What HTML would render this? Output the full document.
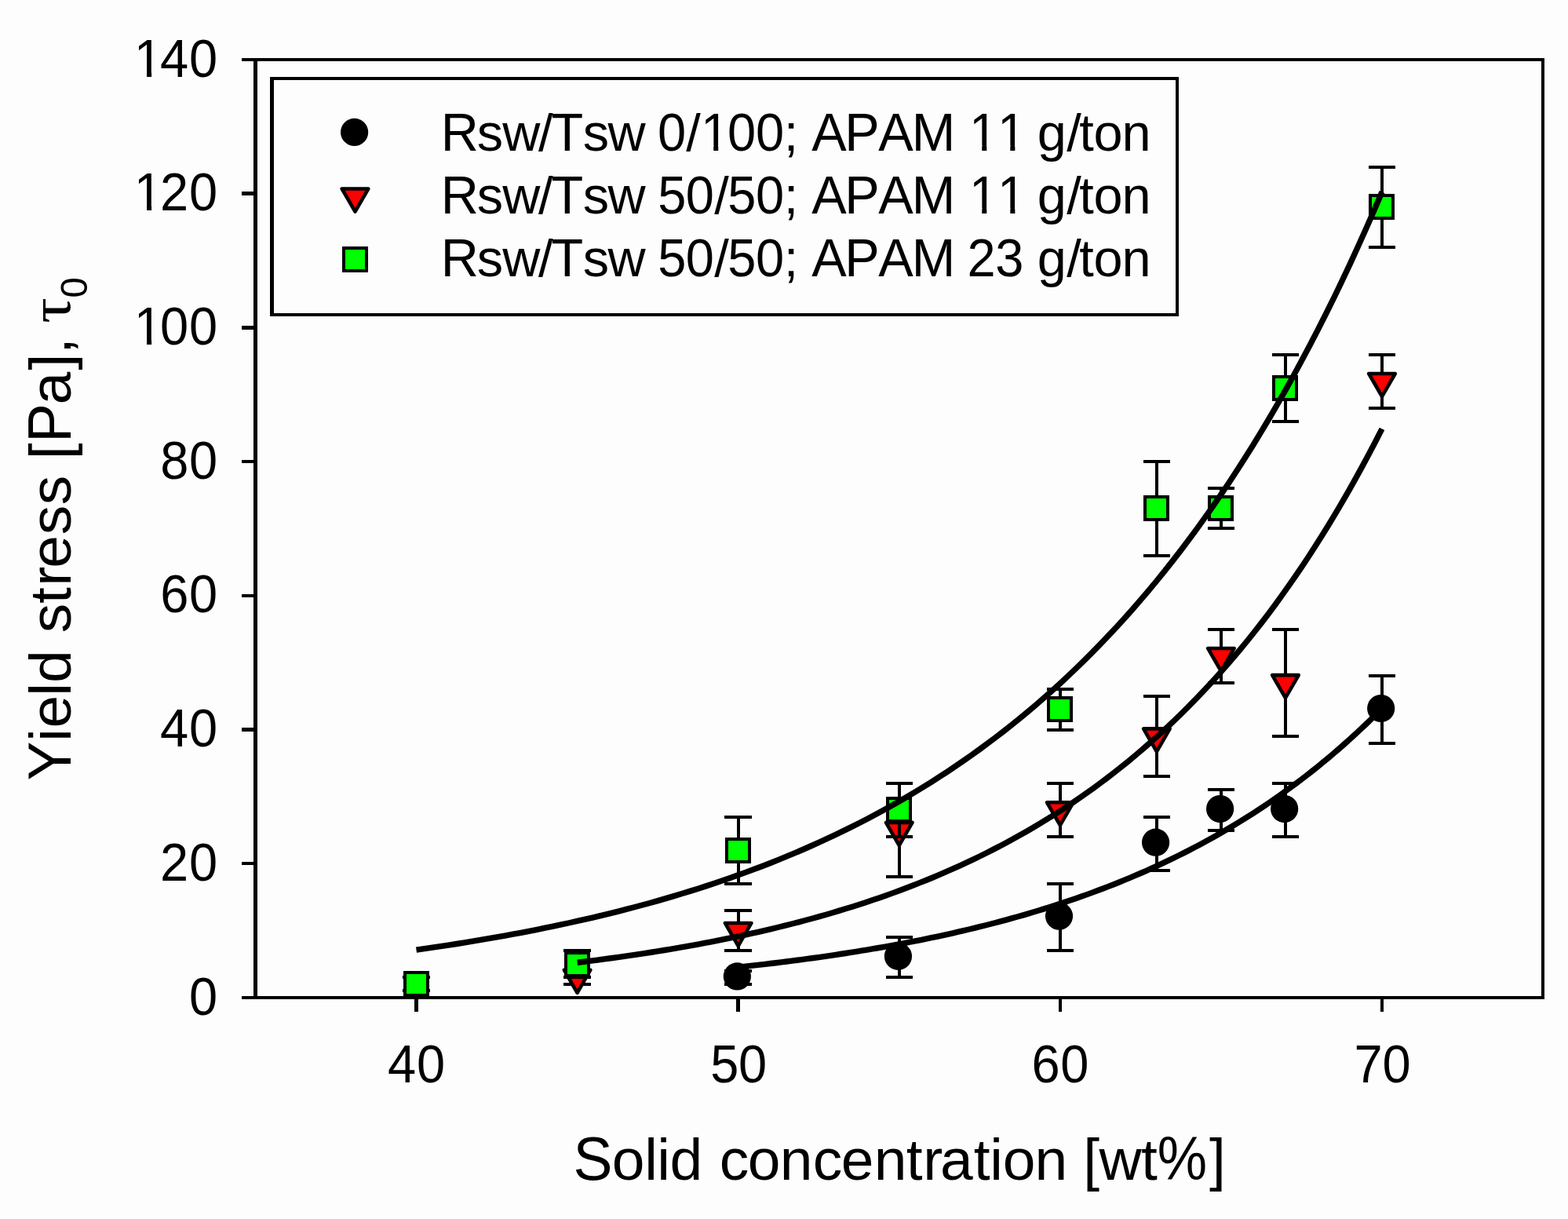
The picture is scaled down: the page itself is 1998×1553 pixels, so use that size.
<!DOCTYPE html>
<html lang="en">
<head>
<meta charset="utf-8">
<title>Yield stress vs solid concentration</title>
<style>
html,body{margin:0;padding:0;background:#fdfdfd;}
body{width:1998px;height:1553px;overflow:hidden;}
svg{display:block;}
text{white-space:pre;font-kerning:none;}
</style>
</head>
<body>
<svg xmlns="http://www.w3.org/2000/svg" width="1998" height="1553" viewBox="0 0 1998 1553" font-family='"Liberation Sans", sans-serif' fill="#000">
<rect x="0" y="0" width="1998" height="1553" fill="#fdfdfd"/>
<g id="frame" shape-rendering="crispEdges">
<rect x="308.00" y="74.00" width="1660.00" height="4.00" fill="#000"/>
<rect x="308.00" y="1269.00" width="1660.00" height="4.00" fill="#000"/>
<rect x="323.00" y="74.00" width="5.00" height="1199.00" fill="#000"/>
<rect x="1964.00" y="74.00" width="4.00" height="1199.00" fill="#000"/>
<rect x="308.00" y="1098.00" width="17.00" height="4.00" fill="#000"/>
<rect x="308.00" y="927.00" width="17.00" height="5.00" fill="#000"/>
<rect x="308.00" y="757.00" width="17.00" height="4.00" fill="#000"/>
<rect x="308.00" y="586.00" width="17.00" height="4.00" fill="#000"/>
<rect x="308.00" y="415.00" width="17.00" height="5.00" fill="#000"/>
<rect x="308.00" y="244.00" width="17.00" height="5.00" fill="#000"/>
<rect x="528.00" y="1271.00" width="5.00" height="18.00" fill="#000"/>
<rect x="938.00" y="1271.00" width="5.00" height="18.00" fill="#000"/>
<rect x="1349.00" y="1271.00" width="4.00" height="18.00" fill="#000"/>
<rect x="1759.00" y="1271.00" width="4.00" height="18.00" fill="#000"/>
</g>
<g id="yticklabels">
<g>
<text y="1292.60" font-size="66.67px"><tspan x="241.12" font-size="69.34px" textLength="36.15" lengthAdjust="spacingAndGlyphs">0</tspan></text>
</g>
<g>
<text y="1121.88" font-size="66.67px"><tspan x="203.97" font-size="69.34px" textLength="36.15" lengthAdjust="spacingAndGlyphs">2</tspan><tspan x="241.12" font-size="69.34px" textLength="36.15" lengthAdjust="spacingAndGlyphs">0</tspan></text>
</g>
<g>
<text y="951.16" font-size="66.67px"><tspan x="204.11" font-size="69.34px" textLength="36.15" lengthAdjust="spacingAndGlyphs">4</tspan><tspan x="241.12" font-size="69.34px" textLength="36.15" lengthAdjust="spacingAndGlyphs">0</tspan></text>
</g>
<g>
<text y="780.44" font-size="66.67px"><tspan x="204.18" font-size="69.34px" textLength="36.15" lengthAdjust="spacingAndGlyphs">6</tspan><tspan x="241.12" font-size="69.34px" textLength="36.15" lengthAdjust="spacingAndGlyphs">0</tspan></text>
</g>
<g>
<text y="609.72" font-size="66.67px"><tspan x="204.17" font-size="69.34px" textLength="36.15" lengthAdjust="spacingAndGlyphs">8</tspan><tspan x="241.12" font-size="69.34px" textLength="36.15" lengthAdjust="spacingAndGlyphs">0</tspan></text>
</g>
<g>
<text y="439.00" font-size="66.67px"><tspan x="170.86" font-size="69.34px" textLength="36.15" lengthAdjust="spacingAndGlyphs">1</tspan><tspan x="204.02" font-size="69.34px" textLength="36.15" lengthAdjust="spacingAndGlyphs">0</tspan><tspan x="241.12" font-size="69.34px" textLength="36.15" lengthAdjust="spacingAndGlyphs">0</tspan></text>
<rect x="174.81" y="432.22" width="12.24" height="7.58" fill="#fdfdfd"/>
<rect x="193.10" y="432.22" width="11.74" height="7.58" fill="#fdfdfd"/>
</g>
<g>
<text y="268.28" font-size="66.67px"><tspan x="170.86" font-size="69.34px" textLength="36.15" lengthAdjust="spacingAndGlyphs">1</tspan><tspan x="203.97" font-size="69.34px" textLength="36.15" lengthAdjust="spacingAndGlyphs">2</tspan><tspan x="241.12" font-size="69.34px" textLength="36.15" lengthAdjust="spacingAndGlyphs">0</tspan></text>
<rect x="174.81" y="261.50" width="12.24" height="7.58" fill="#fdfdfd"/>
<rect x="193.10" y="261.50" width="11.74" height="7.58" fill="#fdfdfd"/>
</g>
<g>
<text y="97.56" font-size="66.67px"><tspan x="170.86" font-size="69.34px" textLength="36.15" lengthAdjust="spacingAndGlyphs">1</tspan><tspan x="204.11" font-size="69.34px" textLength="36.15" lengthAdjust="spacingAndGlyphs">4</tspan><tspan x="241.12" font-size="69.34px" textLength="36.15" lengthAdjust="spacingAndGlyphs">0</tspan></text>
<rect x="174.81" y="90.78" width="12.24" height="7.58" fill="#fdfdfd"/>
<rect x="193.10" y="90.78" width="11.74" height="7.58" fill="#fdfdfd"/>
</g>
</g>
<g id="xticklabels">
<g>
<text y="1379.00" font-size="66.67px"><tspan x="494.11" font-size="69.34px" textLength="36.15" lengthAdjust="spacingAndGlyphs">4</tspan><tspan x="530.92" font-size="69.34px" textLength="36.15" lengthAdjust="spacingAndGlyphs">0</tspan></text>
</g>
<g>
<text y="1379.00" font-size="66.67px"><tspan x="905.13" font-size="69.34px" textLength="36.15" lengthAdjust="spacingAndGlyphs">5</tspan><tspan x="941.09" font-size="69.34px" textLength="36.15" lengthAdjust="spacingAndGlyphs">0</tspan></text>
</g>
<g>
<text y="1379.00" font-size="66.67px"><tspan x="1314.52" font-size="69.34px" textLength="36.15" lengthAdjust="spacingAndGlyphs">6</tspan><tspan x="1351.26" font-size="69.34px" textLength="36.15" lengthAdjust="spacingAndGlyphs">0</tspan></text>
</g>
<g>
<text y="1379.00" font-size="66.67px"><tspan x="1725.38" font-size="69.34px" textLength="36.15" lengthAdjust="spacingAndGlyphs">7</tspan><tspan x="1761.43" font-size="69.34px" textLength="36.15" lengthAdjust="spacingAndGlyphs">0</tspan></text>
</g>
</g>
<g>
<text id="xlabel" y="1502.80" font-size="75.00px"><tspan x="730.53" font-size="78.00px" textLength="50.02" lengthAdjust="spacingAndGlyphs">S</tspan><tspan x="779.64">o</tspan><tspan x="821.15">l</tspan><tspan x="837.24">i</tspan><tspan x="853.59">d</tspan> <tspan x="916.65">c</tspan><tspan x="952.69">o</tspan><tspan x="993.64">n</tspan><tspan x="1035.65">c</tspan><tspan x="1071.87">e</tspan><tspan x="1113.64">n</tspan><tspan x="1154.84">t</tspan><tspan x="1176.14">r</tspan><tspan x="1198.00">a</tspan><tspan x="1240.79">t</tspan><tspan x="1261.29">i</tspan><tspan x="1277.64">o</tspan><tspan x="1318.59">n</tspan> <tspan x="1380.25">[</tspan><tspan x="1400.38">w</tspan><tspan x="1453.89">t</tspan><tspan x="1474.72" font-size="78.00px" textLength="63.35" lengthAdjust="spacingAndGlyphs">%</tspan><tspan x="1541.06">]</tspan></text>
</g>
<g transform="rotate(-90)">
<text id="ylabel" y="90.06" font-size="75.00px"><tspan x="-994.41" font-size="78.00px" textLength="50.02" lengthAdjust="spacingAndGlyphs">Y</tspan><tspan x="-944.66">i</tspan><tspan x="-927.58">e</tspan><tspan x="-886.70">l</tspan><tspan x="-870.01">d</tspan> <tspan x="-806.34">s</tspan><tspan x="-769.01">t</tspan><tspan x="-746.66">r</tspan><tspan x="-723.73">e</tspan><tspan x="-681.24">s</tspan><tspan x="-643.29">s</tspan> <tspan x="-585.15">[</tspan><tspan x="-563.96" font-size="78.00px" textLength="50.02" lengthAdjust="spacingAndGlyphs">P</tspan><tspan x="-515.40">a</tspan><tspan x="-471.44">]</tspan><tspan x="-450.97">,</tspan> <tspan x="-411.78" font-family="'Liberation Serif', serif" y="89.20" font-size="74.70px" textLength="32.55" lengthAdjust="spacingAndGlyphs">τ</tspan><tspan x="-379.58" y="111.10" font-size="48.60px" textLength="26.42" lengthAdjust="spacingAndGlyphs">0</tspan></text>
</g>
<g id="series1">
<g shape-rendering="crispEdges">
<rect x="939.00" y="1235.00" width="4.00" height="21.00" fill="#000"/>
<rect x="923.00" y="1235.00" width="35.00" height="4.00" fill="#000"/>
<rect x="923.00" y="1252.00" width="35.00" height="4.00" fill="#000"/>
<rect x="1144.00" y="1192.00" width="4.00" height="55.00" fill="#000"/>
<rect x="1129.00" y="1192.00" width="34.00" height="4.00" fill="#000"/>
<rect x="1129.00" y="1243.00" width="34.00" height="4.00" fill="#000"/>
<rect x="1349.00" y="1124.00" width="4.00" height="89.00" fill="#000"/>
<rect x="1334.00" y="1124.00" width="34.00" height="4.00" fill="#000"/>
<rect x="1334.00" y="1209.00" width="34.00" height="4.00" fill="#000"/>
<rect x="1472.00" y="1039.00" width="4.00" height="72.00" fill="#000"/>
<rect x="1457.00" y="1039.00" width="34.00" height="4.00" fill="#000"/>
<rect x="1457.00" y="1107.00" width="34.00" height="4.00" fill="#000"/>
<rect x="1554.00" y="1004.00" width="4.00" height="56.00" fill="#000"/>
<rect x="1539.00" y="1004.00" width="34.00" height="4.00" fill="#000"/>
<rect x="1539.00" y="1056.00" width="34.00" height="4.00" fill="#000"/>
<rect x="1636.00" y="996.00" width="4.00" height="72.00" fill="#000"/>
<rect x="1621.00" y="996.00" width="34.00" height="4.00" fill="#000"/>
<rect x="1621.00" y="1064.00" width="34.00" height="4.00" fill="#000"/>
<rect x="1759.00" y="859.00" width="4.00" height="90.00" fill="#000"/>
<rect x="1744.00" y="859.00" width="34.00" height="4.00" fill="#000"/>
<rect x="1744.00" y="945.00" width="34.00" height="4.00" fill="#000"/>
</g>
<circle cx="939.36" cy="1243.94" r="17.6"/>
<circle cx="1144.44" cy="1218.33" r="17.6"/>
<circle cx="1349.53" cy="1167.12" r="17.6"/>
<circle cx="1472.58" cy="1073.22" r="17.6"/>
<circle cx="1554.61" cy="1030.54" r="17.6"/>
<circle cx="1636.64" cy="1030.54" r="17.6"/>
<circle cx="1759.69" cy="902.50" r="17.6"/>
</g>
<g id="series2">
<g shape-rendering="crispEdges">
<rect x="734.00" y="1235.00" width="4.00" height="21.00" fill="#000"/>
<rect x="718.00" y="1235.00" width="35.00" height="4.00" fill="#000"/>
<rect x="718.00" y="1252.00" width="35.00" height="4.00" fill="#000"/>
<rect x="939.00" y="1158.00" width="4.00" height="55.00" fill="#000"/>
<rect x="923.00" y="1158.00" width="35.00" height="4.00" fill="#000"/>
<rect x="923.00" y="1209.00" width="35.00" height="4.00" fill="#000"/>
<rect x="1144.00" y="996.00" width="4.00" height="123.00" fill="#000"/>
<rect x="1129.00" y="996.00" width="34.00" height="4.00" fill="#000"/>
<rect x="1129.00" y="1115.00" width="34.00" height="4.00" fill="#000"/>
<rect x="1349.00" y="996.00" width="4.00" height="72.00" fill="#000"/>
<rect x="1334.00" y="996.00" width="34.00" height="4.00" fill="#000"/>
<rect x="1334.00" y="1064.00" width="34.00" height="4.00" fill="#000"/>
<rect x="1472.00" y="885.00" width="4.00" height="106.00" fill="#000"/>
<rect x="1457.00" y="885.00" width="34.00" height="4.00" fill="#000"/>
<rect x="1457.00" y="987.00" width="34.00" height="4.00" fill="#000"/>
<rect x="1554.00" y="800.00" width="4.00" height="72.00" fill="#000"/>
<rect x="1539.00" y="800.00" width="34.00" height="4.00" fill="#000"/>
<rect x="1539.00" y="868.00" width="34.00" height="4.00" fill="#000"/>
<rect x="1636.00" y="800.00" width="4.00" height="140.00" fill="#000"/>
<rect x="1621.00" y="800.00" width="34.00" height="4.00" fill="#000"/>
<rect x="1621.00" y="936.00" width="34.00" height="4.00" fill="#000"/>
<rect x="1759.00" y="450.00" width="4.00" height="72.00" fill="#000"/>
<rect x="1744.00" y="450.00" width="34.00" height="4.00" fill="#000"/>
<rect x="1744.00" y="518.00" width="34.00" height="4.00" fill="#000"/>
</g>
<polygon points="718.77,1235.69 752.37,1235.69 735.57,1264.79" fill="#ff0000" stroke="#000" stroke-width="4.6" stroke-linejoin="round"/>
<polygon points="923.86,1175.94 957.45,1175.94 940.65,1205.04" fill="#ff0000" stroke="#000" stroke-width="4.6" stroke-linejoin="round"/>
<polygon points="1128.94,1047.90 1162.54,1047.90 1145.74,1077.00" fill="#ff0000" stroke="#000" stroke-width="4.6" stroke-linejoin="round"/>
<polygon points="1334.03,1022.29 1367.63,1022.29 1350.83,1051.39" fill="#ff0000" stroke="#000" stroke-width="4.6" stroke-linejoin="round"/>
<polygon points="1457.08,928.40 1490.68,928.40 1473.88,957.50" fill="#ff0000" stroke="#000" stroke-width="4.6" stroke-linejoin="round"/>
<polygon points="1539.11,825.96 1572.71,825.96 1555.91,855.06" fill="#ff0000" stroke="#000" stroke-width="4.6" stroke-linejoin="round"/>
<polygon points="1621.14,860.11 1654.74,860.11 1637.94,889.21" fill="#ff0000" stroke="#000" stroke-width="4.6" stroke-linejoin="round"/>
<polygon points="1744.19,475.99 1777.79,475.99 1760.99,505.09" fill="#ff0000" stroke="#000" stroke-width="4.6" stroke-linejoin="round"/>
</g>
<g id="series3">
<g shape-rendering="crispEdges">
<rect x="528.00" y="1243.00" width="4.00" height="21.00" fill="#000"/>
<rect x="513.00" y="1243.00" width="35.00" height="4.00" fill="#000"/>
<rect x="513.00" y="1260.00" width="35.00" height="4.00" fill="#000"/>
<rect x="734.00" y="1209.00" width="4.00" height="38.00" fill="#000"/>
<rect x="718.00" y="1209.00" width="35.00" height="4.00" fill="#000"/>
<rect x="718.00" y="1243.00" width="35.00" height="4.00" fill="#000"/>
<rect x="939.00" y="1039.00" width="4.00" height="89.00" fill="#000"/>
<rect x="923.00" y="1039.00" width="35.00" height="4.00" fill="#000"/>
<rect x="923.00" y="1124.00" width="35.00" height="4.00" fill="#000"/>
<rect x="1144.00" y="996.00" width="4.00" height="72.00" fill="#000"/>
<rect x="1129.00" y="996.00" width="34.00" height="4.00" fill="#000"/>
<rect x="1129.00" y="1064.00" width="34.00" height="4.00" fill="#000"/>
<rect x="1349.00" y="876.00" width="4.00" height="56.00" fill="#000"/>
<rect x="1334.00" y="876.00" width="34.00" height="4.00" fill="#000"/>
<rect x="1334.00" y="928.00" width="34.00" height="4.00" fill="#000"/>
<rect x="1472.00" y="586.00" width="4.00" height="124.00" fill="#000"/>
<rect x="1457.00" y="586.00" width="34.00" height="4.00" fill="#000"/>
<rect x="1457.00" y="706.00" width="34.00" height="4.00" fill="#000"/>
<rect x="1554.00" y="620.00" width="4.00" height="55.00" fill="#000"/>
<rect x="1539.00" y="620.00" width="34.00" height="4.00" fill="#000"/>
<rect x="1539.00" y="671.00" width="34.00" height="4.00" fill="#000"/>
<rect x="1636.00" y="450.00" width="4.00" height="89.00" fill="#000"/>
<rect x="1621.00" y="450.00" width="34.00" height="4.00" fill="#000"/>
<rect x="1621.00" y="535.00" width="34.00" height="4.00" fill="#000"/>
<rect x="1759.00" y="211.00" width="4.00" height="106.00" fill="#000"/>
<rect x="1744.00" y="211.00" width="34.00" height="4.00" fill="#000"/>
<rect x="1744.00" y="313.00" width="34.00" height="4.00" fill="#000"/>
</g>
<rect x="516" y="1239" width="29" height="29" fill="#00ff00" stroke="#000" stroke-width="4" shape-rendering="crispEdges"/>
<rect x="721" y="1214" width="29" height="29" fill="#00ff00" stroke="#000" stroke-width="4" shape-rendering="crispEdges"/>
<rect x="926" y="1069" width="29" height="29" fill="#00ff00" stroke="#000" stroke-width="4" shape-rendering="crispEdges"/>
<rect x="1131" y="1017" width="29" height="29" fill="#00ff00" stroke="#000" stroke-width="4" shape-rendering="crispEdges"/>
<rect x="1336" y="889" width="29" height="29" fill="#00ff00" stroke="#000" stroke-width="4" shape-rendering="crispEdges"/>
<rect x="1459" y="633" width="29" height="29" fill="#00ff00" stroke="#000" stroke-width="4" shape-rendering="crispEdges"/>
<rect x="1541" y="633" width="29" height="29" fill="#00ff00" stroke="#000" stroke-width="4" shape-rendering="crispEdges"/>
<rect x="1623" y="480" width="29" height="29" fill="#00ff00" stroke="#000" stroke-width="4" shape-rendering="crispEdges"/>
<rect x="1746" y="249" width="29" height="29" fill="#00ff00" stroke="#000" stroke-width="4" shape-rendering="crispEdges"/>
</g>
<g id="curves">
<polyline points="530.49,1210.09 540.74,1208.64 550.99,1207.16 561.25,1205.64 571.50,1204.08 581.76,1202.49 592.01,1200.86 602.26,1199.19 612.52,1197.47 622.77,1195.72 633.03,1193.93 643.28,1192.10 653.54,1190.22 663.79,1188.29 674.04,1186.32 684.30,1184.31 694.55,1182.24 704.81,1180.13 715.06,1177.96 725.32,1175.75 735.57,1173.48 745.82,1171.16 756.08,1168.78 766.33,1166.34 776.59,1163.85 786.84,1161.30 797.10,1158.69 807.35,1156.01 817.60,1153.27 827.86,1150.47 838.11,1147.60 848.37,1144.66 858.62,1141.65 868.88,1138.57 879.13,1135.41 889.38,1132.18 899.64,1128.88 909.89,1125.49 920.15,1122.03 930.40,1118.48 940.65,1114.85 950.91,1111.13 961.16,1107.32 971.42,1103.42 981.67,1099.43 991.93,1095.35 1002.18,1091.16 1012.43,1086.88 1022.69,1082.49 1032.94,1078.00 1043.20,1073.41 1053.45,1068.70 1063.71,1063.88 1073.96,1058.95 1084.21,1053.90 1094.47,1048.73 1104.72,1043.44 1114.98,1038.02 1125.23,1032.47 1135.49,1026.79 1145.74,1020.97 1155.99,1015.02 1166.25,1008.92 1176.50,1002.68 1186.76,996.29 1197.01,989.74 1207.27,983.04 1217.52,976.19 1227.77,969.16 1238.03,961.98 1248.28,954.62 1258.54,947.08 1268.79,939.37 1279.05,931.47 1289.30,923.38 1299.55,915.10 1309.81,906.63 1320.06,897.95 1330.32,889.06 1340.57,879.97 1350.83,870.65 1361.08,861.12 1371.33,851.36 1381.59,841.36 1391.84,831.13 1402.10,820.65 1412.35,809.93 1422.60,798.95 1432.86,787.70 1443.11,776.19 1453.37,764.41 1463.62,752.34 1473.88,739.99 1484.13,727.34 1494.38,714.39 1504.64,701.14 1514.89,687.57 1525.15,673.67 1535.40,659.44 1545.66,644.88 1555.91,629.97 1566.16,614.70 1576.42,599.07 1586.67,583.07 1596.93,566.68 1607.18,549.91 1617.44,532.73 1627.69,515.15 1637.94,497.15 1648.20,478.72 1658.45,459.85 1668.71,440.53 1678.96,420.75 1689.22,400.50 1699.47,379.77 1709.72,358.54 1719.98,336.81 1730.23,314.56 1740.49,291.78 1750.74,268.46 1760.99,244.58" fill="none" stroke="#000" stroke-width="7.4" stroke-linejoin="round" stroke-linecap="butt"/>
<polyline points="735.57,1226.27 744.12,1225.22 752.66,1224.15 761.21,1223.05 769.75,1221.92 778.30,1220.77 786.84,1219.59 795.39,1218.38 803.93,1217.15 812.48,1215.88 821.02,1214.59 829.57,1213.26 838.11,1211.91 846.66,1210.52 855.20,1209.10 863.75,1207.65 872.29,1206.16 880.84,1204.64 889.38,1203.08 897.93,1201.48 906.47,1199.85 915.02,1198.18 923.56,1196.47 932.11,1194.72 940.65,1192.93 949.20,1191.10 957.75,1189.22 966.29,1187.30 974.84,1185.34 983.38,1183.33 991.93,1181.27 1000.47,1179.16 1009.02,1177.00 1017.56,1174.80 1026.11,1172.54 1034.65,1170.23 1043.20,1167.86 1051.74,1165.44 1060.29,1162.96 1068.83,1160.42 1077.38,1157.83 1085.92,1155.17 1094.47,1152.45 1103.01,1149.67 1111.56,1146.82 1120.10,1143.90 1128.65,1140.92 1137.19,1137.86 1145.74,1134.74 1154.29,1131.54 1162.83,1128.26 1171.38,1124.91 1179.92,1121.48 1188.47,1117.97 1197.01,1114.38 1205.56,1110.70 1214.10,1106.94 1222.65,1103.08 1231.19,1099.14 1239.74,1095.11 1248.28,1090.98 1256.83,1086.75 1265.37,1082.42 1273.92,1078.00 1282.46,1073.46 1291.01,1068.83 1299.55,1064.08 1308.10,1059.22 1316.64,1054.25 1325.19,1049.16 1333.73,1043.95 1342.28,1038.62 1350.83,1033.16 1359.37,1027.58 1367.92,1021.86 1376.46,1016.01 1385.01,1010.03 1393.55,1003.90 1402.10,997.63 1410.64,991.21 1419.19,984.64 1427.73,977.91 1436.28,971.03 1444.82,963.99 1453.37,956.78 1461.91,949.40 1470.46,941.85 1479.00,934.12 1487.55,926.21 1496.09,918.12 1504.64,909.83 1513.18,901.35 1521.73,892.67 1530.27,883.79 1538.82,874.70 1547.36,865.39 1555.91,855.87 1564.46,846.12 1573.00,836.15 1581.55,825.94 1590.09,815.49 1598.64,804.79 1607.18,793.85 1615.73,782.64 1624.27,771.18 1632.82,759.44 1641.36,747.43 1649.91,735.14 1658.45,722.55 1667.00,709.68 1675.54,696.50 1684.09,683.01 1692.63,669.20 1701.18,655.07 1709.72,640.61 1718.27,625.81 1726.81,610.66 1735.36,595.15 1743.90,579.29 1752.45,563.04 1760.99,546.42" fill="none" stroke="#000" stroke-width="7.4" stroke-linejoin="round" stroke-linecap="butt"/>
<polyline points="940.65,1232.16 947.49,1231.42 954.33,1230.67 961.16,1229.91 968.00,1229.13 974.84,1228.34 981.67,1227.53 988.51,1226.71 995.34,1225.87 1002.18,1225.02 1009.02,1224.15 1015.85,1223.26 1022.69,1222.36 1029.53,1221.44 1036.36,1220.50 1043.20,1219.54 1050.03,1218.57 1056.87,1217.58 1063.71,1216.56 1070.54,1215.53 1077.38,1214.49 1084.21,1213.42 1091.05,1212.33 1097.89,1211.22 1104.72,1210.08 1111.56,1208.93 1118.40,1207.76 1125.23,1206.56 1132.07,1205.34 1138.90,1204.10 1145.74,1202.83 1152.58,1201.54 1159.41,1200.23 1166.25,1198.89 1173.08,1197.52 1179.92,1196.13 1186.76,1194.71 1193.59,1193.27 1200.43,1191.80 1207.27,1190.30 1214.10,1188.77 1220.94,1187.22 1227.77,1185.63 1234.61,1184.02 1241.45,1182.37 1248.28,1180.69 1255.12,1178.98 1261.95,1177.24 1268.79,1175.47 1275.63,1173.66 1282.46,1171.82 1289.30,1169.94 1296.14,1168.03 1302.97,1166.08 1309.81,1164.09 1316.64,1162.07 1323.48,1160.01 1330.32,1157.91 1337.15,1155.77 1343.99,1153.59 1350.83,1151.37 1357.66,1149.10 1364.50,1146.79 1371.33,1144.44 1378.17,1142.05 1385.01,1139.61 1391.84,1137.12 1398.68,1134.59 1405.51,1132.01 1412.35,1129.38 1419.19,1126.70 1426.02,1123.97 1432.86,1121.18 1439.70,1118.35 1446.53,1115.46 1453.37,1112.51 1460.20,1109.52 1467.04,1106.46 1473.88,1103.35 1480.71,1100.17 1487.55,1096.94 1494.38,1093.65 1501.22,1090.29 1508.06,1086.87 1514.89,1083.38 1521.73,1079.83 1528.57,1076.22 1535.40,1072.53 1542.24,1068.77 1549.07,1064.95 1555.91,1061.05 1562.75,1057.07 1569.58,1053.02 1576.42,1048.90 1583.25,1044.70 1590.09,1040.41 1596.93,1036.05 1603.76,1031.60 1610.60,1027.07 1617.44,1022.46 1624.27,1017.75 1631.11,1012.96 1637.94,1008.08 1644.78,1003.10 1651.62,998.03 1658.45,992.86 1665.29,987.60 1672.12,982.24 1678.96,976.77 1685.80,971.20 1692.63,965.53 1699.47,959.75 1706.31,953.86 1713.14,947.86 1719.98,941.74 1726.81,935.51 1733.65,929.16 1740.49,922.69 1747.32,916.10 1754.16,909.38 1760.99,902.54" fill="none" stroke="#000" stroke-width="7.4" stroke-linejoin="round" stroke-linecap="butt"/>
</g>
<g id="legend">
<g shape-rendering="crispEdges">
<rect x="344.00" y="98.00" width="1158.00" height="4.00" fill="#000"/>
<rect x="344.00" y="399.00" width="1158.00" height="4.00" fill="#000"/>
<rect x="344.00" y="98.00" width="5.00" height="305.00" fill="#000"/>
<rect x="1498.00" y="98.00" width="4.00" height="305.00" fill="#000"/>
</g>
<circle cx="451.60" cy="168.40" r="17.6"/>
<polygon points="435.70,240.50 469.30,240.50 452.50,269.60" fill="#ff0000" stroke="#000" stroke-width="4.6" stroke-linejoin="round"/>
<rect x="438" y="316" width="29" height="29" fill="#00ff00" stroke="#000" stroke-width="4" shape-rendering="crispEdges"/>
<g>
<text y="191.70" font-size="66.67px"><tspan x="561.64" font-size="69.34px" textLength="48.15" lengthAdjust="spacingAndGlyphs">R</tspan><tspan x="607.76">s</tspan><tspan x="640.19">w</tspan><tspan x="685.89">/</tspan><tspan x="702.45" font-size="69.34px" textLength="40.72" lengthAdjust="spacingAndGlyphs">T</tspan><tspan x="742.76">s</tspan><tspan x="774.44">w</tspan> <tspan x="837.92" font-size="69.34px" textLength="36.15" lengthAdjust="spacingAndGlyphs">0</tspan><tspan x="874.24">/</tspan><tspan x="893.01" font-size="69.34px" textLength="36.15" lengthAdjust="spacingAndGlyphs">1</tspan><tspan x="927.07" font-size="69.34px" textLength="36.15" lengthAdjust="spacingAndGlyphs">0</tspan><tspan x="962.92" font-size="69.34px" textLength="36.15" lengthAdjust="spacingAndGlyphs">0</tspan><tspan x="998.74">;</tspan> <tspan x="1034.24" font-size="69.34px" textLength="44.47" lengthAdjust="spacingAndGlyphs">A</tspan><tspan x="1076.34" font-size="69.34px" textLength="44.47" lengthAdjust="spacingAndGlyphs">P</tspan><tspan x="1119.32" font-size="69.34px" textLength="44.47" lengthAdjust="spacingAndGlyphs">A</tspan><tspan x="1161.78" font-size="69.34px" textLength="55.54" lengthAdjust="spacingAndGlyphs">M</tspan> <tspan x="1235.06" font-size="69.34px" textLength="36.15" lengthAdjust="spacingAndGlyphs">1</tspan><tspan x="1271.11" font-size="69.34px" textLength="36.15" lengthAdjust="spacingAndGlyphs">1</tspan> <tspan x="1321.66">g</tspan><tspan x="1359.19">/</tspan><tspan x="1375.33">t</tspan><tspan x="1393.61">o</tspan><tspan x="1429.61">n</tspan></text>
<rect x="896.96" y="184.92" width="12.24" height="7.58" fill="#fdfdfd"/>
<rect x="915.25" y="184.92" width="11.74" height="7.58" fill="#fdfdfd"/>
<rect x="1239.01" y="184.92" width="12.24" height="7.58" fill="#fdfdfd"/>
<rect x="1257.30" y="184.92" width="11.74" height="7.58" fill="#fdfdfd"/>
<rect x="1275.06" y="184.92" width="12.24" height="7.58" fill="#fdfdfd"/>
<rect x="1293.35" y="184.92" width="11.74" height="7.58" fill="#fdfdfd"/>
</g>
<g>
<text y="271.80" font-size="66.67px"><tspan x="561.64" font-size="69.34px" textLength="48.15" lengthAdjust="spacingAndGlyphs">R</tspan><tspan x="607.76">s</tspan><tspan x="640.19">w</tspan><tspan x="685.89">/</tspan><tspan x="702.45" font-size="69.34px" textLength="40.72" lengthAdjust="spacingAndGlyphs">T</tspan><tspan x="742.76">s</tspan><tspan x="774.44">w</tspan> <tspan x="838.14" font-size="69.34px" textLength="36.15" lengthAdjust="spacingAndGlyphs">5</tspan><tspan x="873.87" font-size="69.34px" textLength="36.15" lengthAdjust="spacingAndGlyphs">0</tspan><tspan x="910.24">/</tspan><tspan x="927.14" font-size="69.34px" textLength="36.15" lengthAdjust="spacingAndGlyphs">5</tspan><tspan x="962.92" font-size="69.34px" textLength="36.15" lengthAdjust="spacingAndGlyphs">0</tspan><tspan x="998.74">;</tspan> <tspan x="1034.24" font-size="69.34px" textLength="44.47" lengthAdjust="spacingAndGlyphs">A</tspan><tspan x="1076.34" font-size="69.34px" textLength="44.47" lengthAdjust="spacingAndGlyphs">P</tspan><tspan x="1119.32" font-size="69.34px" textLength="44.47" lengthAdjust="spacingAndGlyphs">A</tspan><tspan x="1161.78" font-size="69.34px" textLength="55.54" lengthAdjust="spacingAndGlyphs">M</tspan> <tspan x="1235.06" font-size="69.34px" textLength="36.15" lengthAdjust="spacingAndGlyphs">1</tspan><tspan x="1271.11" font-size="69.34px" textLength="36.15" lengthAdjust="spacingAndGlyphs">1</tspan> <tspan x="1321.66">g</tspan><tspan x="1359.19">/</tspan><tspan x="1375.33">t</tspan><tspan x="1393.61">o</tspan><tspan x="1429.61">n</tspan></text>
<rect x="1239.01" y="265.02" width="12.24" height="7.58" fill="#fdfdfd"/>
<rect x="1257.30" y="265.02" width="11.74" height="7.58" fill="#fdfdfd"/>
<rect x="1275.06" y="265.02" width="12.24" height="7.58" fill="#fdfdfd"/>
<rect x="1293.35" y="265.02" width="11.74" height="7.58" fill="#fdfdfd"/>
</g>
<g>
<text y="351.90" font-size="66.67px"><tspan x="561.64" font-size="69.34px" textLength="48.15" lengthAdjust="spacingAndGlyphs">R</tspan><tspan x="607.76">s</tspan><tspan x="640.19">w</tspan><tspan x="685.89">/</tspan><tspan x="702.45" font-size="69.34px" textLength="40.72" lengthAdjust="spacingAndGlyphs">T</tspan><tspan x="742.76">s</tspan><tspan x="774.44">w</tspan> <tspan x="838.14" font-size="69.34px" textLength="36.15" lengthAdjust="spacingAndGlyphs">5</tspan><tspan x="873.87" font-size="69.34px" textLength="36.15" lengthAdjust="spacingAndGlyphs">0</tspan><tspan x="910.24">/</tspan><tspan x="927.14" font-size="69.34px" textLength="36.15" lengthAdjust="spacingAndGlyphs">5</tspan><tspan x="962.92" font-size="69.34px" textLength="36.15" lengthAdjust="spacingAndGlyphs">0</tspan><tspan x="998.74">;</tspan> <tspan x="1034.24" font-size="69.34px" textLength="44.47" lengthAdjust="spacingAndGlyphs">A</tspan><tspan x="1076.34" font-size="69.34px" textLength="44.47" lengthAdjust="spacingAndGlyphs">P</tspan><tspan x="1119.32" font-size="69.34px" textLength="44.47" lengthAdjust="spacingAndGlyphs">A</tspan><tspan x="1161.78" font-size="69.34px" textLength="55.54" lengthAdjust="spacingAndGlyphs">M</tspan> <tspan x="1232.62" font-size="69.34px" textLength="36.15" lengthAdjust="spacingAndGlyphs">2</tspan><tspan x="1268.26" font-size="69.34px" textLength="36.15" lengthAdjust="spacingAndGlyphs">3</tspan> <tspan x="1321.66">g</tspan><tspan x="1359.19">/</tspan><tspan x="1375.33">t</tspan><tspan x="1393.61">o</tspan><tspan x="1429.61">n</tspan></text>
</g>
</g>
</svg>
</body>
</html>
